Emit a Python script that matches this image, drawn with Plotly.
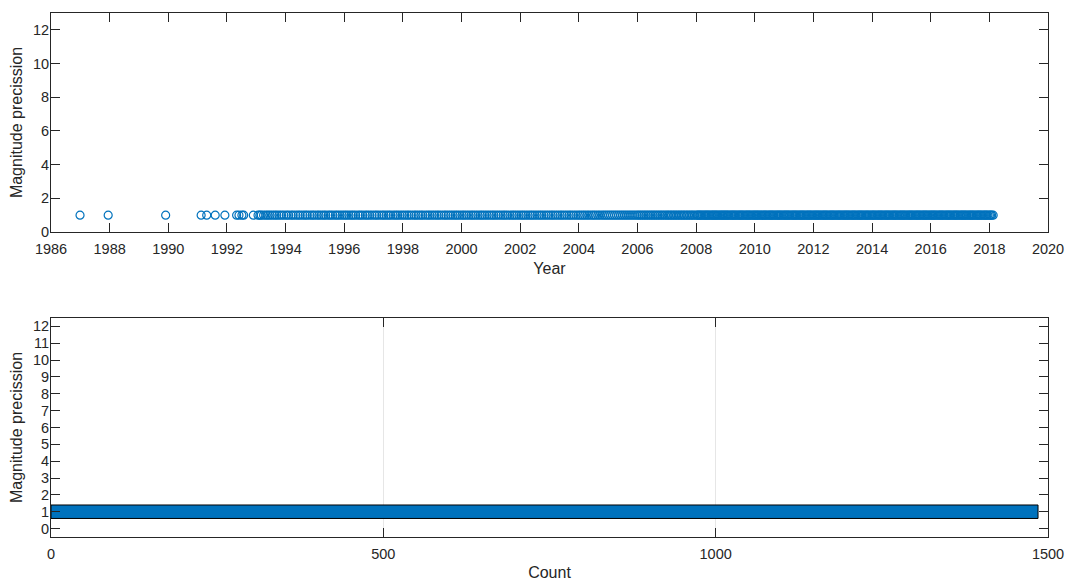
import plotly.graph_objects as go

# ---- data ----
event_years = [
    1986.99, 1987.95, 1989.91, 1991.12, 1991.31, 1991.60, 1991.93, 1992.33, 1992.41, 1992.51, 1992.57, 1992.90,
    1993.06, 1993.12, 1993.17, 1993.25, 1993.33, 1993.40, 1993.47, 1993.55, 1993.63, 1993.70, 1993.78, 1993.86, 1993.94,
    1994.03, 1994.10, 1994.19, 1994.26, 1994.35, 1994.43, 1994.50, 1994.59, 1994.67, 1994.74, 1994.83, 1994.91, 1994.98,
    1995.07, 1995.14, 1995.22, 1995.30, 1995.37, 1995.46, 1995.53, 1995.61, 1995.70, 1995.77, 1995.85, 1995.93,
    1996.01, 1996.08, 1996.16, 1996.24, 1996.31, 1996.39, 1996.48, 1996.55, 1996.63, 1996.72, 1996.79, 1996.87, 1996.95,
    1997.04, 1997.11, 1997.19, 1997.28, 1997.35, 1997.43, 1997.51, 1997.58, 1997.67, 1997.75, 1997.82, 1997.90, 1997.98,
    1998.06, 1998.14, 1998.21, 1998.29, 1998.38, 1998.45, 1998.53, 1998.61, 1998.68, 1998.77, 1998.85, 1998.92,
    1999.00, 1999.08, 1999.16, 1999.23, 1999.31, 1999.40, 1999.47, 1999.55, 1999.63, 1999.71, 1999.79, 1999.86, 1999.94,
    2000.02, 2000.09, 2000.17, 2000.25, 2000.33, 2000.40, 2000.48, 2000.56, 2000.64, 2000.71, 2000.79, 2000.87, 2000.95,
    2001.03, 2001.10, 2001.18, 2001.26, 2001.34, 2001.42, 2001.49, 2001.57, 2001.65, 2001.73, 2001.80, 2001.88, 2001.96,
    2002.04, 2002.11, 2002.19, 2002.27, 2002.35, 2002.42, 2002.50, 2002.58, 2002.66, 2002.73, 2002.81, 2002.89, 2002.97,
    2003.05, 2003.12, 2003.20, 2003.28, 2003.36, 2003.43, 2003.51, 2003.59, 2003.67, 2003.74, 2003.82, 2003.90, 2003.98,
    2004.05, 2004.13, 2004.20, 2004.28, 2004.35, 2004.43, 2004.50, 2004.57, 2004.65, 2004.72, 2004.80, 2004.87, 2004.94,
    2005.01, 2005.08, 2005.15, 2005.22, 2005.29, 2005.36, 2005.43, 2005.50, 2005.57, 2005.64, 2005.71, 2005.78, 2005.85, 2005.92, 2005.99,
    2006.05, 2006.11, 2006.17, 2006.23, 2006.29, 2006.35, 2006.41, 2006.47, 2006.53, 2006.59, 2006.65, 2006.71, 2006.77, 2006.83, 2006.89, 2006.95,
    2007.01, 2007.06, 2007.12, 2007.17, 2007.23, 2007.28, 2007.34, 2007.39, 2007.45, 2007.50, 2007.56, 2007.61, 2007.67, 2007.72, 2007.78, 2007.83, 2007.89, 2007.94,
    2008.01, 2008.05, 2008.09, 2008.13, 2008.17, 2008.21, 2008.26, 2008.30, 2008.34, 2008.38, 2008.42, 2008.46, 2008.51, 2008.55, 2008.59, 2008.63, 2008.67, 2008.71, 2008.75, 2008.80, 2008.84, 2008.88, 2008.92, 2008.96,
    2009.00, 2009.04, 2009.08, 2009.12, 2009.17, 2009.21, 2009.25, 2009.29, 2009.33, 2009.37, 2009.42, 2009.46, 2009.50, 2009.54, 2009.58, 2009.62, 2009.67, 2009.71, 2009.75, 2009.79, 2009.83, 2009.87, 2009.92, 2009.96,
    2010.00, 2010.04, 2010.08, 2010.12, 2010.16, 2010.21, 2010.25, 2010.29, 2010.33, 2010.37, 2010.41, 2010.46, 2010.50, 2010.54, 2010.58, 2010.62, 2010.66, 2010.71, 2010.75, 2010.79, 2010.83, 2010.87, 2010.91, 2010.96,
    2011.00, 2011.04, 2011.08, 2011.12, 2011.16, 2011.20, 2011.25, 2011.29, 2011.33, 2011.37, 2011.41, 2011.45, 2011.50, 2011.54, 2011.58, 2011.62, 2011.66, 2011.70, 2011.75, 2011.79, 2011.83, 2011.87, 2011.91, 2011.95,
    2012.00, 2012.04, 2012.08, 2012.12, 2012.16, 2012.20, 2012.24, 2012.29, 2012.33, 2012.37, 2012.41, 2012.45, 2012.49, 2012.54, 2012.58, 2012.62, 2012.66, 2012.70, 2012.74, 2012.79, 2012.83, 2012.87, 2012.91, 2012.95,
    2013.00, 2013.04, 2013.08, 2013.12, 2013.16, 2013.20, 2013.24, 2013.29, 2013.33, 2013.37, 2013.41, 2013.45, 2013.50, 2013.54, 2013.58, 2013.62, 2013.66, 2013.70, 2013.75, 2013.79, 2013.83, 2013.87, 2013.91, 2013.96,
    2014.00, 2014.04, 2014.08, 2014.12, 2014.17, 2014.21, 2014.25, 2014.29, 2014.33, 2014.37, 2014.42, 2014.46, 2014.50, 2014.54, 2014.58, 2014.62, 2014.67, 2014.71, 2014.75, 2014.79, 2014.83, 2014.87, 2014.92, 2014.96,
    2015.00, 2015.04, 2015.08, 2015.12, 2015.16, 2015.21, 2015.25, 2015.29, 2015.33, 2015.37, 2015.41, 2015.46, 2015.50, 2015.54, 2015.58, 2015.62, 2015.66, 2015.71, 2015.75, 2015.79, 2015.83, 2015.87, 2015.91, 2015.96,
    2016.00, 2016.04, 2016.08, 2016.12, 2016.16, 2016.20, 2016.25, 2016.29, 2016.33, 2016.37, 2016.41, 2016.45, 2016.50, 2016.54, 2016.58, 2016.62, 2016.66, 2016.70, 2016.75, 2016.79, 2016.83, 2016.87, 2016.91, 2016.95,
    2017.00, 2017.04, 2017.08, 2017.12, 2017.16, 2017.20, 2017.24, 2017.29, 2017.33, 2017.37, 2017.41, 2017.45, 2017.49, 2017.54, 2017.58, 2017.62, 2017.66, 2017.70, 2017.74, 2017.79, 2017.83, 2017.87, 2017.91, 2017.95,
    2018.00, 2018.04, 2018.08, 2018.13,
]
event_precision = [1] * len(event_years)

precision_bins = [1]
precision_counts = [1485]

year_ticks = list(range(1986, 2021, 2))
top_y_ticks = [0, 2, 4, 6, 8, 10, 12]
bottom_y_ticks = list(range(0, 13))
count_ticks = [0, 500, 1000, 1500]

BLUE = "#0072BD"
AX = "#262626"
FONT = "Liberation Sans, Arial, sans-serif"
TICK_FONT = dict(family=FONT, size=14.5, color=AX)
TITLE_FONT = dict(family=FONT, size=16, color=AX)

fig = go.Figure()
fig.add_trace(go.Scatter(
    x=event_years, y=event_precision, mode="markers",
    marker=dict(symbol="circle-open", size=8, color=BLUE, line=dict(width=1.2, color=BLUE)),
    xaxis="x", yaxis="y", showlegend=False, hoverinfo="x+y",
))
fig.add_trace(go.Bar(
    x=precision_counts, y=precision_bins, orientation="h", width=0.8,
    marker=dict(color=BLUE, line=dict(color="#000000", width=1)),
    xaxis="x2", yaxis="y2", showlegend=False,
))

axis_common = dict(
    showline=True, linecolor=AX, linewidth=1, mirror="ticks",
    ticks="inside", ticklen=9, tickwidth=1, tickcolor=AX,
    tickfont=TICK_FONT, automargin=False,
    zeroline=False, showgrid=False,
)

fig.update_layout(
    width=1067, height=581,
    margin=dict(l=51, r=19, t=13, b=44),
    paper_bgcolor="white", plot_bgcolor="white",
    font=dict(family=FONT, color=AX),
    xaxis=dict(**axis_common, domain=[0, 1], anchor="y", range=[1986, 2020],
               tickvals=year_ticks, ticklabelstandoff=4,
               title=dict(text="Year", font=TITLE_FONT, standoff=6)),
    yaxis=dict(**axis_common, domain=[0.582, 1], anchor="x", range=[0, 13],
               tickvals=top_y_ticks, ticklabelstandoff=-2,
               title=dict(text="Magnitude precission", font=TITLE_FONT, standoff=6)),
    xaxis2=dict(**{**axis_common, "showgrid": True}, gridcolor="#e6e6e6", gridwidth=1,
                domain=[0, 1], anchor="y2", range=[0, 1500], tickvals=count_ticks,
                ticklabelstandoff=4,
                title=dict(text="Count", font=TITLE_FONT, standoff=6)),
    yaxis2=dict(**axis_common, domain=[0, 0.418], anchor="x2", range=[-0.5, 12.5],
                tickvals=bottom_y_ticks, ticklabelstandoff=-2,
                title=dict(text="Magnitude precission", font=TITLE_FONT, standoff=6)),
)

fig.write_html(
    "out.html",
    config={"displayModeBar": False},
    post_script="document.body.style.margin='0';document.body.style.overflow='hidden';",
)
